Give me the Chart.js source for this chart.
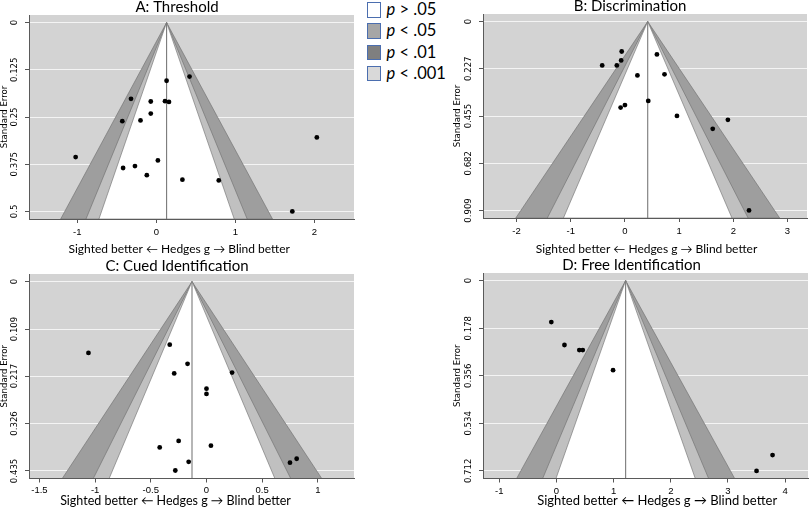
<!DOCTYPE html>
<html>
<head>
<meta charset="utf-8">
<script src="https://cdn.jsdelivr.net/npm/chart.js@4.4.1/dist/chart.umd.min.js"></script>
<style>
    html, body { margin: 0; padding: 0; background: #fff; width: 812px; height: 512px; overflow: hidden; position: relative; }
    canvas { position: absolute; }
    #legend { position: absolute; left: 367px; top: 2px; font-family: Lato, 'Open Sans', sans-serif; font-size: 16.5px; color: #000; }
    #legend .row { height: 21.3px; display: flex; align-items: flex-start; }
    #legend .box { width: 11.5px; height: 13.5px; border: 1px solid #4b6eaf; margin-right: 6px; }
    #legend .txt { line-height: 16px; margin-top: -1px; }
</style>
</head>
<body>
<canvas id="panelA" width="360" height="262" style="left:0px; top:0px;"></canvas>
<canvas id="panelB" width="359" height="263" style="left:453px; top:-1px;"></canvas>
<canvas id="panelC" width="360" height="257" style="left:0px; top:255px;"></canvas>
<canvas id="panelD" width="359" height="257" style="left:453px; top:255px;"></canvas>
<div id="legend"></div>
<script>
// ---- data ----
const xTitle = 'Sighted better \u2190 Hedges g \u2192 Blind better';
const yTitle = 'Standard Error';

// contour z values of the funnel bands (inner, middle, outer)
const contourZ = [1.645, 1.96, 2.576];

// legend
const legendSymbols = ['>', '<', '<', '<'];
const legendLevels = ['.05', '.05', '.01', '.001'];

// A: Threshold
const titleA = 'A: Threshold';
const effectA = [0.42, 0.13, -0.32, -0.07, 0.11, 0.16, -0.07, -0.20, -0.43, 2.03, -1.02, 0.02, -0.27, -0.42, -0.12, 0.33, 0.79, 1.72];
const seA = [0.143, 0.154, 0.202, 0.209, 0.208, 0.210, 0.241, 0.259, 0.261, 0.304, 0.356, 0.365, 0.380, 0.385, 0.404, 0.416, 0.418, 0.500];
const centreA = 0.13;
const seTicksA = ['0', '0.125', '0.25', '0.375', '0.5'];
const xTicksA = [-1, 0, 1, 2];
const xRangeA = [-1.61, 2.50];

// B: Discrimination
const titleB = 'B: Discrimination';
const effectB = [-0.06, 0.59, -0.07, -0.42, -0.15, 0.23, 0.73, 0.43, 0.00, -0.08, 0.96, 1.90, 1.62, 2.29];
const seB = [0.144, 0.158, 0.187, 0.211, 0.211, 0.259, 0.254, 0.382, 0.402, 0.414, 0.454, 0.473, 0.516, 0.909];
const centreB = 0.42;
const seTicksB = ['0', '0.227', '0.455', '0.682', '0.909'];
const xTicksB = [-2, -1, 0, 1, 2, 3];
const xRangeB = [-2.62, 3.36];

// C: Cued Identification
const titleC = 'C: Cued Identification';
const effectC = [-1.06, -0.33, -0.17, -0.29, 0.23, 0.00, 0.00, -0.25, -0.42, 0.04, -0.16, -0.28, 0.75, 0.81];
const seC = [0.164, 0.145, 0.189, 0.211, 0.209, 0.246, 0.258, 0.366, 0.381, 0.377, 0.414, 0.434, 0.416, 0.407];
const centreC = -0.13;
const seTicksC = ['0', '0.109', '0.217', '0.326', '0.435'];
const xTicksC = [-1.5, -1, -0.5, 0, 0.5, 1];
const xRangeC = [-1.594, 1.325];

// D: Free Identification
const titleD = 'D: Free Identification';
const effectD = [-0.09, 0.14, 0.40, 0.46, 0.99, 3.78, 3.50];
const seD = [0.155, 0.241, 0.260, 0.260, 0.335, 0.653, 0.712];
const centreD = 1.21;
const seTicksD = ['0', '0.178', '0.356', '0.534', '0.712'];
const xTicksD = [-1, 0, 1, 2, 3, 4];
const xRangeD = [-1.285, 4.40];

// ---- styling ----
const bandColors = ['#ffffff', '#c0c0c0', '#9e9e9e'];
const legendFills = ['#ffffff', '#a6a6a6', '#7f7f7f', '#d9d9d9'];
const plotBack = '#d3d3d3';
const titleFamily = 'Lato, "Open Sans", sans-serif';
const narrowFamily = '"Liberation Sans Narrow", "DejaVu Sans Condensed", sans-serif';

// gray plot region behind grid and funnel
const plotBackground = {
    id: 'plotBackground',
    beforeDraw(chart) {
        const { ctx, chartArea: a } = chart;
        ctx.save();
        ctx.fillStyle = plotBack;
        ctx.fillRect(a.left, a.top, a.right - a.left, a.bottom - a.top);
        ctx.restore();
    }
};

function funnelShape(centre, z, seBottom) {
    return [
        { x: centre, y: 0 },
        { x: centre - z * seBottom, y: seBottom },
        { x: centre + z * seBottom, y: seBottom },
        { x: centre, y: 0 }
    ];
}

// move a centred axis title sideways by padding it with spaces
function shiftedTitle(text, size, shiftPx) {
    const ctx = document.createElement('canvas').getContext('2d');
    ctx.font = size + 'px ' + titleFamily;
    const w = ctx.measureText(' ').width || 3;
    const n = Math.round(Math.abs(shiftPx) * 2 / w);
    return shiftPx < 0 ? text + ' '.repeat(n) : ' '.repeat(n) + text;
}

function makeFunnel(canvasId, title, effect, se, centre, seTicks, xTicks, xRange, box) {
    const seMax = parseFloat(seTicks[seTicks.length - 1]);
    const seBottom = seMax * 1.04;
    const points = effect.map((g, i) => ({ x: g, y: se[i] }));

    const datasets = [{
        label: 'studies',
        data: points,
        pointRadius: 2.4,
        pointBackgroundColor: '#000',
        pointBorderWidth: 0,
        order: 0
    }, {
        label: 'estimate',
        data: [{ x: centre, y: 0 }, { x: centre, y: seBottom }],
        showLine: true,
        borderColor: '#7a7a7a',
        borderWidth: 1.1,
        pointRadius: 0,
        order: 1
    }];
    contourZ.forEach((z, k) => {
        datasets.push({
            label: 'z ' + z,
            data: funnelShape(centre, z, seBottom),
            showLine: true,
            fill: 'shape',
            backgroundColor: bandColors[k],
            borderColor: '#6c6c6c',
            borderWidth: 0.6,
            pointRadius: 0,
            order: 2 + k
        });
    });

    return new Chart(document.getElementById(canvasId), {
        type: 'scatter',
        data: { datasets },
        plugins: [plotBackground],
        options: {
            responsive: false,
            animation: false,
            layout: { padding: box.pad },
            plugins: {
                legend: { display: false },
                tooltip: { enabled: false },
                title: {
                    display: true,
                    text: title,
                    color: '#000',
                    font: { family: titleFamily, size: 15, weight: 'normal', lineHeight: 1 },
                    padding: { top: 0, bottom: 0 }
                }
            },
            scales: {
                x: {
                    type: 'linear',
                    min: xRange[0],
                    max: xRange[1],
                    afterBuildTicks: axis => { axis.ticks = xTicks.map(v => ({ value: v })); },
                    afterFit: axis => { axis.height = box.xHeight; },
                    grid: { drawOnChartArea: false, drawTicks: true, tickLength: 4, tickColor: '#555' },
                    border: { display: true, color: '#5a5a5a', width: 1, z: 1 },
                    ticks: {
                        padding: box.tickPad,
                        color: '#000',
                        font: { family: '"Liberation Sans", Arial, sans-serif', size: 9.5 },
                        callback: v => String(v)
                    },
                    title: {
                        display: true,
                        text: shiftedTitle(xTitle, box.xTitleSize, box.xTitleShift),
                        color: '#000',
                        font: { family: titleFamily, size: box.xTitleSize, lineHeight: 1 },
                        padding: { top: 0, bottom: 0 }
                    }
                },
                y: {
                    type: 'linear',
                    reverse: true,
                    min: -0.04 * seMax,
                    max: seBottom,
                    afterBuildTicks: axis => { axis.ticks = seTicks.map(s => ({ value: parseFloat(s) })); },
                    afterFit: axis => { axis.width = box.yWidth; },
                    grid: { color: '#f4f4f4', lineWidth: 1, drawTicks: true, tickLength: 4, tickColor: '#555' },
                    border: { display: true, color: '#5a5a5a', width: 1, z: 1 },
                    ticks: {
                        minRotation: 90,
                        maxRotation: 90,
                        crossAlign: 'center',
                        padding: -2,
                        color: '#000',
                        font: { family: narrowFamily, size: 9.5 },
                        callback: (v, i) => seTicks[i]
                    },
                    title: {
                        display: true,
                        text: yTitle,
                        color: '#000',
                        font: { family: narrowFamily, size: 9.5, lineHeight: 1 },
                        padding: { top: 0, bottom: 0 }
                    }
                }
            }
        }
    });
}

function buildLegend() {
    const el = document.getElementById('legend');
    legendLevels.forEach((lvl, i) => {
        const row = document.createElement('div');
        row.className = 'row';
        row.innerHTML = '<span class="box" style="background:' + legendFills[i] + '"></span>' +
            '<span class="txt"><i>p</i> ' + (legendSymbols[i] === '>' ? '&gt;' : '&lt;') + ' ' + lvl + '</span>';
        el.appendChild(row);
    });
}

makeFunnel('panelA', titleA, effectA, seA, centreA, seTicksA, xTicksA, xRangeA,
    { pad: { left: 0, right: 6, top: 0, bottom: 7 }, yWidth: 29, xHeight: 36, tickPad: 4, xTitleSize: 12, xTitleShift: -12.5 });
makeFunnel('panelB', titleB, effectB, seB, centreB, seTicksB, xTicksB, xRangeB,
    { pad: { left: 0, right: 5, top: 0, bottom: 7 }, yWidth: 30, xHeight: 37, tickPad: 4, xTitleSize: 12, xTitleShift: 1.5 });
makeFunnel('panelC', titleC, effectC, seC, centreC, seTicksC, xTicksC, xRangeC,
    { pad: { left: 0, right: 6, top: 4, bottom: 5 }, yWidth: 29, xHeight: 28.5, tickPad: 2.5, xTitleSize: 12.5, xTitleShift: -16 });
makeFunnel('panelD', titleD, effectD, seD, centreD, seTicksD, xTicksD, xRangeD,
    { pad: { left: 0, right: 2, top: 3, bottom: 5 }, yWidth: 30, xHeight: 28.5, tickPad: 2.8, xTitleSize: 13, xTitleShift: 11 });

buildLegend();
</script>
</body>
</html>
